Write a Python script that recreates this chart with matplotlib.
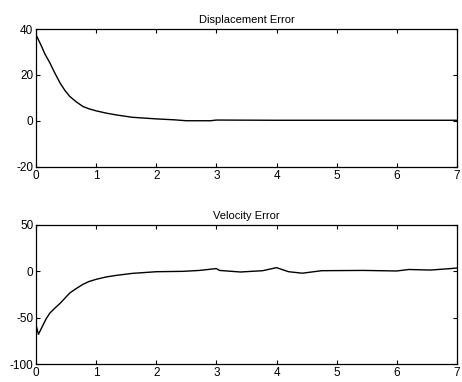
import numpy as np
import matplotlib.pyplot as plt

plt.rcParams['font.family'] = ['Liberation Sans', 'DejaVu Sans']
plt.rcParams['axes.unicode_minus'] = False

# displacement error
t_disp = [0, 0.05, 0.1, 0.15, 0.23, 0.3, 0.4, 0.48, 0.56, 0.67, 0.78, 0.88, 1.0, 1.17, 1.34,
          1.6, 2.0, 2.3, 2.5, 2.9, 3.0, 4.0, 5.0, 6.0, 7.0]
disp = [37.5, 34.8, 32.0, 29.0, 25.3, 21.5, 16.5, 13.3, 10.7, 8.3, 6.3, 5.3, 4.4, 3.4, 2.6,
        1.6, 0.9, 0.5, 0.1, 0.1, 0.4, 0.3, 0.3, 0.3, 0.3]

# velocity error
t_vel = [0, 0.04, 0.1, 0.17, 0.23, 0.3, 0.4, 0.48, 0.56, 0.67, 0.78, 0.88, 1.0, 1.17, 1.34,
         1.6, 2.0, 2.44, 2.72, 3.0, 3.05, 3.4, 3.77, 4.0, 4.2, 4.43, 4.75, 5.44, 6.0, 6.2,
         6.56, 6.9, 7.0]
vel = [-58, -68, -60, -51, -45, -40.5, -34.5, -29, -23.4, -18.5, -14, -11, -8.6, -6, -4.3,
       -2.2, -0.4, 0, 1, 3, 1, -0.7, 0.7, 4, -0.4, -2, 0.7, 1, 0.4, 2, 1.4, 3, 3.6]

fig = plt.figure(figsize=(4.62, 3.82), dpi=100)
ax1 = fig.add_axes([0.078, 0.563, 0.911, 0.361])
ax2 = fig.add_axes([0.078, 0.047, 0.911, 0.364])

def style(ax, title, ylim, yticks):
    ax.set_xlim(0, 7)
    ax.set_ylim(*ylim)
    ax.set_xticks(range(8))
    ax.set_yticks(yticks)
    ax.tick_params(direction='in', top=True, right=True, length=3, labelsize=8.5, pad=2)
    ax.set_title(title, fontsize=8, pad=4)
    for s in ax.spines.values():
        s.set_linewidth(0.9)

ax1.plot(t_disp, disp, color='black', lw=1)
style(ax1, 'Displacement Error', (-20, 40), [-20, 0, 20, 40])

ax2.plot(t_vel, vel, color='black', lw=1)
style(ax2, 'Velocity Error', (-100, 50), [-100, -50, 0, 50])

fig.savefig('out.png', dpi=100)
